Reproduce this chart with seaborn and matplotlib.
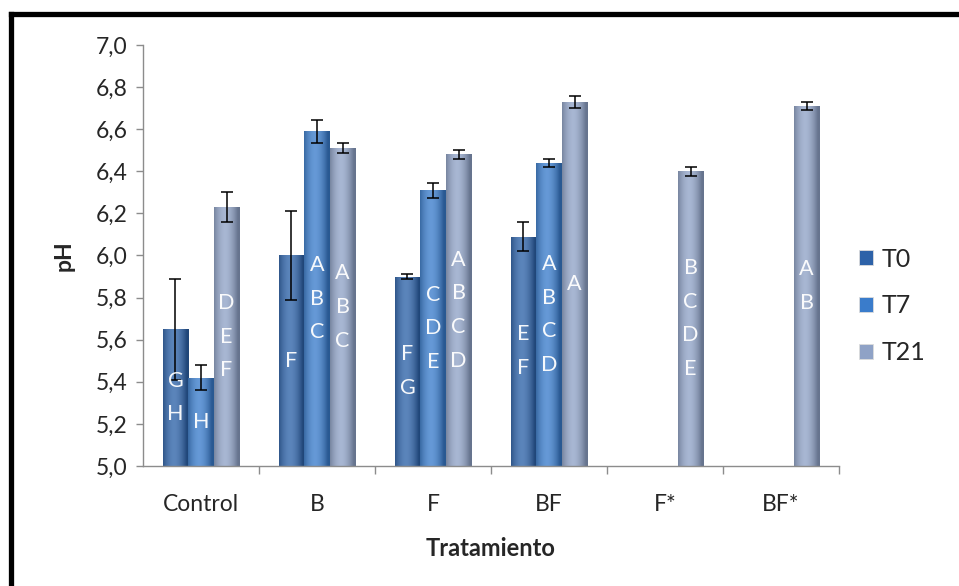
import numpy as np
import pandas as pd
import matplotlib
matplotlib.use("Agg")
import matplotlib.pyplot as plt
import seaborn as sns
from matplotlib.lines import Line2D
from matplotlib.ticker import FuncFormatter, FixedLocator

# pH means per treatment and sampling time (NaN = not measured)
tratamientos = ["Control", "B", "F", "BF", "F*", "BF*"]
tiempos = ["T0", "T7", "T21"]
ph_t0 = [5.65, 6.00, 5.90, 6.09, np.nan, np.nan]
ph_t7 = [5.42, 6.59, 6.31, 6.44, np.nan, np.nan]
ph_t21 = [6.23, 6.51, 6.48, 6.73, 6.40, 6.71]
err_t0 = [0.24, 0.21, 0.012, 0.07, np.nan, np.nan]
err_t7 = [0.06, 0.055, 0.035, 0.02, np.nan, np.nan]
err_t21 = [0.07, 0.025, 0.02, 0.03, 0.02, 0.02]
# Tukey grouping letters
letras_t0 = ["GH", "F", "FG", "EF", "", ""]
letras_t7 = ["H", "ABC", "CDE", "ABCD", "", ""]
letras_t21 = ["DEF", "ABC", "ABCD", "A", "BCDE", "AB"]

valores = {"T0": ph_t0, "T7": ph_t7, "T21": ph_t21}
errores = {"T0": err_t0, "T7": err_t7, "T21": err_t21}
letras = {"T0": letras_t0, "T7": letras_t7, "T21": letras_t21}

df = pd.DataFrame(
    [(t, tiempo, valores[tiempo][i]) for tiempo in tiempos for i, t in enumerate(tratamientos)],
    columns=["Tratamiento", "Tiempo", "pH"],
)

colores = {"T0": "#2d62a8", "T7": "#3a7ccb", "T21": "#8fa2c6"}

sns.set_theme(style="white")
plt.rcParams["font.family"] = ["Lato", "DejaVu Sans"]

fig = plt.figure(figsize=(9.59, 5.86), dpi=100)
ax = fig.add_axes([0.1491, 0.2048, 0.7258, 0.7184])

sns.barplot(data=df, x="Tratamiento", y="pH", hue="Tiempo", order=tratamientos,
            hue_order=tiempos, palette=colores, width=0.66, errorbar=None,
            ax=ax, legend=False, linewidth=0, saturation=1)

ax.set_ylim(5.0, 7.0)
ax.set_xlim(-0.5, len(tratamientos) - 0.5)


def cilindro(patch, color):
    """Paint a rounded, cylinder-like shading inside a bar."""
    x0, y0 = patch.get_x(), patch.get_y()
    w, h = patch.get_width(), patch.get_height()
    if not np.isfinite(h) or h == 0:
        return
    base = np.array(matplotlib.colors.to_rgb(color))
    claro = base + (1 - base) * 0.22
    oscuro = base * 0.72
    t = np.linspace(-1, 1, 64)
    perfil = 1 - np.abs(t + 0.15) ** 1.8
    perfil = np.clip(perfil, 0, 1)
    fila = oscuro[None, :] + (claro - oscuro)[None, :] * perfil[:, None]
    img = np.repeat(fila[None, :, :], 2, axis=0)
    im = ax.imshow(img, extent=[x0, x0 + w, 5.0, y0 + h], aspect="auto",
                   interpolation="bilinear", origin="lower", zorder=patch.get_zorder() + 0.1)
    im.set_clip_path(patch)


for tiempo, cont in zip(tiempos, ax.containers):
    for barra in cont:
        alto = barra.get_height()
        if not np.isfinite(alto):
            continue
        xc = barra.get_x() + barra.get_width() / 2
        i = int(round(xc))
        cilindro(barra, colores[tiempo])
        ax.errorbar(xc, valores[tiempo][i], yerr=errores[tiempo][i], fmt="none",
                    ecolor="black", elinewidth=1.1, capsize=4.5, capthick=1.1, zorder=5)
        if letras[tiempo][i]:
            ymid = (5.0 + valores[tiempo][i]) / 2
            ax.text(xc, ymid, "\n".join(letras[tiempo][i]), ha="center", va="center",
                    color="white", fontsize=15.5, linespacing=1.85, zorder=6, alpha=0.95)

ax.set_xlim(-0.5, len(tratamientos) - 0.5)
ax.set_ylim(5.0, 7.0)

# axes styling
for lado in ["top", "right"]:
    ax.spines[lado].set_visible(False)
for lado in ["left", "bottom"]:
    ax.spines[lado].set_color("#8c8c8c")
    ax.spines[lado].set_linewidth(1.0)

ax.set_yticks(np.arange(5.0, 7.01, 0.2))
ax.yaxis.set_major_formatter(FuncFormatter(lambda v, p: f"{v:.1f}".replace(".", ",")))
ax.tick_params(axis="y", which="major", direction="out", length=5, width=1,
               color="#8c8c8c", labelsize=16.5, labelcolor="#262626", left=True, pad=6)
ax.tick_params(axis="x", which="major", length=0, labelsize=16.5, labelcolor="#262626", pad=20)
ax.xaxis.set_minor_locator(FixedLocator(np.arange(0.5, len(tratamientos), 1.0)))
ax.tick_params(axis="x", which="minor", direction="out", length=6, width=1,
               color="#8c8c8c", bottom=True)

ax.set_xlabel("Tratamiento", fontsize=17, fontweight="bold", color="#262626", labelpad=16)
ax.set_ylabel("pH", fontsize=16.5, fontweight="bold", color="#262626", labelpad=15)

# legend with small square keys
handles = [plt.Rectangle((0, 0), 1, 1, facecolor=colores[t], edgecolor="#dcdcdc", linewidth=0.6)
           for t in tiempos]
fig.legend(handles, tiempos, loc="center left", bbox_to_anchor=(0.896, 0.478),
           frameon=False, fontsize=18, handlelength=0.55, handleheight=0.55,
           handletextpad=0.35, labelspacing=0.95, borderpad=0, borderaxespad=0,
           labelcolor="#262626")

# thick dark frame along the top and left edges
fig.add_artist(Line2D([0.0113, 1.0], [0.9753, 0.9753], color="black", linewidth=3.8,
                      transform=fig.transFigure, solid_capstyle="projecting"))
fig.add_artist(Line2D([0.0113, 0.0113], [0.0, 0.9753], color="black", linewidth=3.8,
                      transform=fig.transFigure, solid_capstyle="projecting"))

fig.savefig("out.png", dpi=100)
